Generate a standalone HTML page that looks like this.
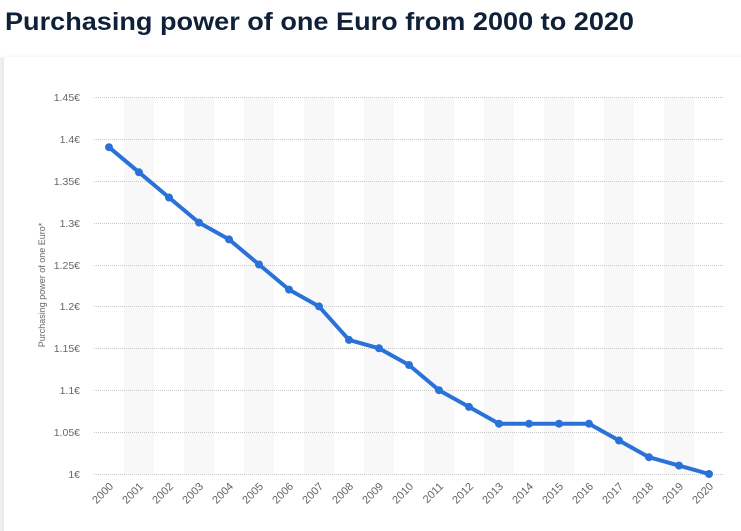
<!DOCTYPE html>
<html><head><meta charset="utf-8"><style>
html,body{margin:0;padding:0;background:#fff;width:741px;height:531px;overflow:hidden;}
body{position:relative;font-family:"Liberation Sans",sans-serif;}
.card{position:absolute;left:4px;top:57px;width:745px;height:480px;background:#fff;border-radius:4px;box-shadow:0 0 6px rgba(0,0,0,0.08);}
.strip{position:absolute;left:0;top:57px;width:4px;height:474px;background:#f0f2f5;}
svg{position:absolute;left:0;top:0;}
</style></head><body>
<div class="strip"></div>
<div class="card"></div>
<svg width="741" height="40" style="left:0;top:0">
<text x="5" y="30" font-family="Liberation Sans, sans-serif" font-size="25" font-weight="bold" fill="#0f2138" textLength="629" lengthAdjust="spacingAndGlyphs">Purchasing power of one Euro from 2000 to 2020</text>
</svg>
<svg width="741" height="531" viewBox="0 0 741 531" font-family="Liberation Sans, sans-serif">
<g fill="#f8f8f8">
<rect x="124" y="97" width="30" height="377"/>
<rect x="184" y="97" width="30" height="377"/>
<rect x="244" y="97" width="30" height="377"/>
<rect x="304" y="97" width="30" height="377"/>
<rect x="364" y="97" width="30" height="377"/>
<rect x="424" y="97" width="30" height="377"/>
<rect x="484" y="97" width="30" height="377"/>
<rect x="544" y="97" width="30" height="377"/>
<rect x="604" y="97" width="30" height="377"/>
<rect x="664" y="97" width="30" height="377"/>
</g>
<g stroke="#c8c8c8" stroke-width="1" stroke-dasharray="1,1">
<line x1="94" x2="724" y1="97.5" y2="97.5"/>
<line x1="94" x2="724" y1="139.5" y2="139.5"/>
<line x1="94" x2="724" y1="181.5" y2="181.5"/>
<line x1="94" x2="724" y1="223.5" y2="223.5"/>
<line x1="94" x2="724" y1="265.5" y2="265.5"/>
<line x1="94" x2="724" y1="306.5" y2="306.5"/>
<line x1="94" x2="724" y1="348.5" y2="348.5"/>
<line x1="94" x2="724" y1="390.5" y2="390.5"/>
<line x1="94" x2="724" y1="432.5" y2="432.5"/>
<line x1="94" x2="724" y1="474.5" y2="474.5"/>
</g>
<g font-size="10.5" fill="#666" text-anchor="end">
<text x="80" y="101">1.45€</text>
<text x="80" y="143">1.4€</text>
<text x="80" y="185">1.35€</text>
<text x="80" y="227">1.3€</text>
<text x="80" y="269">1.25€</text>
<text x="80" y="310">1.2€</text>
<text x="80" y="352">1.15€</text>
<text x="80" y="394">1.1€</text>
<text x="80" y="436">1.05€</text>
<text x="80" y="478">1€</text>
</g>
<text transform="translate(45,285) rotate(-90)" font-size="9" fill="#666" text-anchor="middle">Purchasing power of one Euro*</text>
<polyline fill="none" stroke="#2a72d8" stroke-width="4" stroke-linejoin="round" points="109,147.2 139,172.3 169,197.5 199,222.6 229,239.4 259,264.5 289,289.6 319,306.4 349,339.9 379,348.3 409,365.0 439,390.2 469,406.9 499,423.7 529,423.7 559,423.7 589,423.7 619,440.5 649,457.2 679,465.6 709,474"/>
<g fill="#2a72d8">
<circle cx="109" cy="147.2" r="4"/><circle cx="139" cy="172.3" r="4"/><circle cx="169" cy="197.5" r="4"/><circle cx="199" cy="222.6" r="4"/><circle cx="229" cy="239.4" r="4"/><circle cx="259" cy="264.5" r="4"/><circle cx="289" cy="289.6" r="4"/><circle cx="319" cy="306.4" r="4"/><circle cx="349" cy="339.9" r="4"/><circle cx="379" cy="348.3" r="4"/><circle cx="409" cy="365.0" r="4"/><circle cx="439" cy="390.2" r="4"/><circle cx="469" cy="406.9" r="4"/><circle cx="499" cy="423.7" r="4"/><circle cx="529" cy="423.7" r="4"/><circle cx="559" cy="423.7" r="4"/><circle cx="589" cy="423.7" r="4"/><circle cx="619" cy="440.5" r="4"/><circle cx="649" cy="457.2" r="4"/><circle cx="679" cy="465.6" r="4"/><circle cx="709" cy="474" r="4"/>
</g>
<g font-size="11" fill="#666" text-anchor="end">
<text transform="translate(114,487) rotate(-45)">2000</text>
<text transform="translate(144,487) rotate(-45)">2001</text>
<text transform="translate(174,487) rotate(-45)">2002</text>
<text transform="translate(204,487) rotate(-45)">2003</text>
<text transform="translate(234,487) rotate(-45)">2004</text>
<text transform="translate(264,487) rotate(-45)">2005</text>
<text transform="translate(294,487) rotate(-45)">2006</text>
<text transform="translate(324,487) rotate(-45)">2007</text>
<text transform="translate(354,487) rotate(-45)">2008</text>
<text transform="translate(384,487) rotate(-45)">2009</text>
<text transform="translate(414,487) rotate(-45)">2010</text>
<text transform="translate(444,487) rotate(-45)">2011</text>
<text transform="translate(474,487) rotate(-45)">2012</text>
<text transform="translate(504,487) rotate(-45)">2013</text>
<text transform="translate(534,487) rotate(-45)">2014</text>
<text transform="translate(564,487) rotate(-45)">2015</text>
<text transform="translate(594,487) rotate(-45)">2016</text>
<text transform="translate(624,487) rotate(-45)">2017</text>
<text transform="translate(654,487) rotate(-45)">2018</text>
<text transform="translate(684,487) rotate(-45)">2019</text>
<text transform="translate(714,487) rotate(-45)">2020</text>
</g>
</svg>
</body></html>
